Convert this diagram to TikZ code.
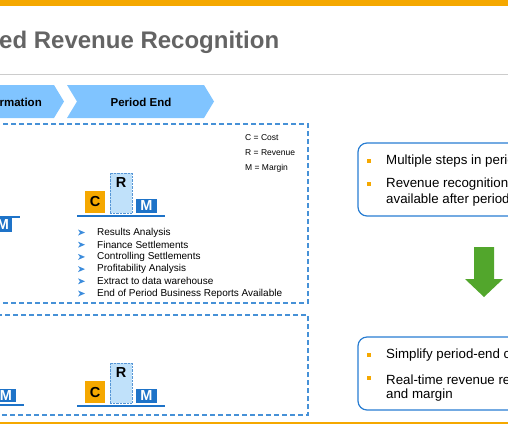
\documentclass[tikz,border=0pt]{standalone}
\usepackage{fontspec}
\setmainfont{Liberation Sans}
\usepackage{xcolor}
\usetikzlibrary{positioning}
\definecolor{sapOrange}{RGB}{245,168,0}
\definecolor{chevBlue}{RGB}{128,196,255}
\definecolor{dashBlue}{RGB}{70,145,215}
\definecolor{mBlue}{RGB}{30,115,200}
\definecolor{rBlue}{RGB}{192,225,250}
\definecolor{bullBlue}{RGB}{60,140,220}
\definecolor{titleGray}{RGB}{100,100,100}
\definecolor{arrowGreen}{RGB}{82,166,44}
\definecolor{noteBlue}{RGB}{40,125,210}

\begin{document}
\begin{tikzpicture}[x=1pt, y=-1pt, font=\fontsize{10}{12}\selectfont,
  chev/.style={fill=chevBlue},
  chevtxt/.style={font=\bfseries\fontsize{11.5}{12}\selectfont, inner sep=0},
  zone/.style={draw=dashBlue, line width=1.4pt, dash pattern=on 5pt off 3pt},
  crm/.style={inner sep=0, outer sep=0, font=\bfseries\fontsize{14.5}{15}\selectfont},
  crmC/.style={crm, fill=sapOrange, minimum width=20pt, minimum height=22pt},
  crmR/.style={crm, fill=rBlue, draw=mBlue!75, densely dotted, minimum width=22pt, minimum height=40pt},
  crmM/.style={crm, fill=mBlue, text=white, minimum width=21pt, minimum height=14pt},
  baseln/.style={draw=mBlue, line width=1.5pt},
  item/.style={anchor=west, inner sep=0},
  legend/.style={anchor=west, inner sep=0, font=\fontsize{8.5}{9}\selectfont},
  note/.style={draw=noteBlue, line width=1.2pt, rounded corners=9pt},
  pt/.style={anchor=west, inner sep=0, font=\fontsize{13.3}{14}\selectfont},
  dot/.style={fill=sapOrange, inner sep=0, minimum size=3.5pt}]
\clip (0,0) rectangle (508,424);
\fill[sapOrange] (0,0) rectangle (508,5.5);
\fill[sapOrange] (0,421.5) rectangle (508,424);
\node[anchor=base west, inner sep=0, text=titleGray, font=\bfseries\fontsize{24}{26}\selectfont] (title) at (-1,48) {ed Revenue Recognition};
\draw[gray!40, line width=1pt] (0,74) -- (508,74);

\fill[chev] (-10,85) -- (54,85) -- (64,101.5) -- (54,118) -- (-10,118) -- cycle;
\fill[chev] (67,85) -- (204,85) -- (214,101.5) -- (204,118) -- (67,118) -- (77,101.5) -- cycle;
\node[chevtxt, anchor=base east] (info) at (42,106) {rmation};
\node[chevtxt, anchor=base] (pend) at (141,106) {Period End};

\draw[zone] (-10,124) rectangle (308,303);
\draw[zone] (-10,315) rectangle (308,415);

\node[legend] (lc) at (245,138) {C = Cost};
\node[legend] (lr) at (245,153) {R = Revenue};
\node[legend] (lm) at (245,168) {M = Margin};

\foreach \g/\dy in {a/0, b/190}{
  \begin{scope}[shift={(0,\dy)}]
    \node[crmC, anchor=south west] (C\g) at (85,213) {C};
    \node[crmR, anchor=south west] (R\g) at (110,213) {};
    \node[crm] (Rl\g) at ([yshift=-10pt]R\g.north) {R};
    \node[crmM, anchor=south west] (M\g) at (136,213) {M};
    \draw[baseln] (77,216) -- (165,216);
  \end{scope}
}
\node[crmM, anchor=south west, minimum width=18pt, minimum height=14pt] (Mx) at (-6,232) {M};
\draw[baseln] (-20,217) -- (20,217);
\node[crmM, anchor=south west, minimum width=20pt, minimum height=13pt] (My) at (-4,402) {M};
\draw[baseln] (-20,405) -- (24,405);

\foreach \txt [count=\i] in {Results Analysis, Finance Settlements, Controlling Settlements,
  Profitability Analysis, Extract to data warehouse, End of Period Business Reports Available}{
  \node[item] (res\i) at (97,{232.5+12.2*(\i-1)}) {\txt};
  \fill[bullBlue] ([xshift=-19pt,yshift=3pt]res\i.west) -- ++(7,3) -- ++(-7,3) -- ++(2,-3) -- cycle;
}

\draw[note] (358,143) rectangle (530,216);
\node[dot] (d1) at (369,161) {};
\node[pt] (t1) at (386,161.5) {Multiple steps in period};
\node[dot] (d2) at (369,184) {};
\node[pt] (t2) at (386,184.5) {Revenue recognition};
\node[pt] (t3) at (386,200.5) {available after period};

\fill[arrowGreen] (474,247) -- (494,247) -- (494,279) -- (503,279) -- (484,297) -- (465,279) -- (474,279) -- cycle;

\draw[note] (358,337) rectangle (530,410);
\node[dot] (d3) at (369,355) {};
\node[pt] (t4) at (386,355.5) {Simplify period-end c};
\node[dot] (d4) at (369,378) {};
\node[pt] (t5) at (386,379.5) {Real-time revenue re};
\node[pt] (t6) at (386,395.5) {and margin};
\end{tikzpicture}
\end{document}
